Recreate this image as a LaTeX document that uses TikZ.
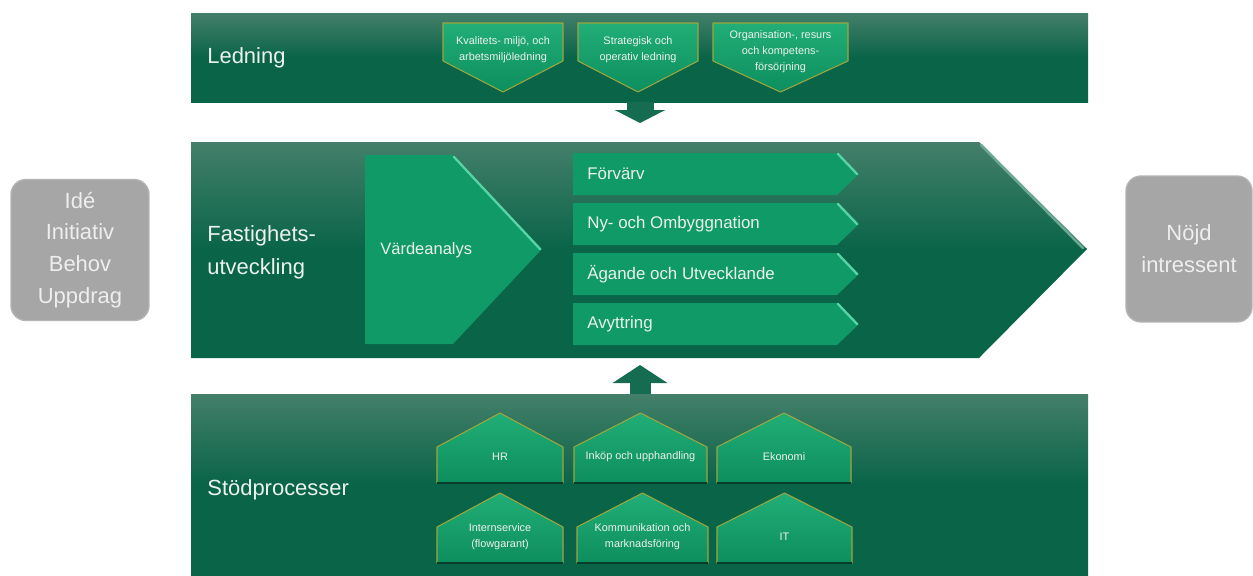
\documentclass[tikz,border=0pt]{standalone}
\usepackage{fontspec}
\setmainfont{Liberation Sans}
\usetikzlibrary{arrows.meta}

\definecolor{bandtop}{RGB}{68,127,106}
\definecolor{bandbot}{RGB}{9,100,72}
\definecolor{procgreen}{RGB}{16,154,103}
\definecolor{proctop}{RGB}{34,174,118}
\definecolor{procdark}{RGB}{13,142,94}
\definecolor{prochigh}{RGB}{88,212,166}
\definecolor{bandhigh}{RGB}{108,168,146}
\definecolor{olive}{RGB}{158,166,62}
\definecolor{shadowgreen}{RGB}{6,62,43}
\definecolor{boxgrey}{RGB}{166,166,166}
\definecolor{boxtext}{RGB}{238,238,238}
\definecolor{lighttext}{RGB}{236,242,238}
\definecolor{arrowgreen}{RGB}{22,108,80}

\pgfdeclareverticalshading{bandshade}{100bp}{color(0bp)=(bandbot); color(25bp)=(bandbot);
  color(50bp)=(bandbot); color(75bp)=(bandtop); color(100bp)=(bandtop)}

\begin{document}
\begin{tikzpicture}[x=0.02cm, y=-0.02cm]
    	\tikzstyle{band} = [shading=bandshade]
    	\tikzstyle{bandedge} = [draw=bandhigh, line width=1.5pt, line cap=round]
    	\tikzstyle{bandlabel} = [anchor=west, text=lighttext, align=left, inner sep=0pt,
    		font=\fontsize{12.5}{18.7}\selectfont]
    	\tikzstyle{proc} = [fill=procgreen]
    	\tikzstyle{prochi} = [draw=prochigh, line width=1.3pt, line cap=round]
    	\tikzstyle{proclabel} = [anchor=west, text=lighttext, inner sep=0pt,
    		font=\fontsize{9.6}{12}\selectfont]
    	\tikzstyle{chevron} = [top color=proctop, bottom color=procdark,
    		draw=olive, line width=0.6pt, line join=round]
    	\tikzstyle{house} = [top color=proctop, bottom color=procdark,
    		draw=olive, line width=0.6pt, line join=round]
    	\tikzstyle{houseshadow} = [draw=shadowgreen, line width=1.4pt]
    	\tikzstyle{smalllabel} = [text=lighttext, align=center, inner sep=0pt,
    		font=\fontsize{6.2}{9.2}\selectfont]
    	\tikzstyle{greybox} = [rounded corners=0.3cm, fill=boxgrey,
    		draw=boxgrey!85!white, line width=0.8pt, text=boxtext, align=center,
    		inner sep=0pt, font=\fontsize{12.5}{18.1}\selectfont]
    	\tikzstyle{flowdown} = [draw=arrowgreen, line width=0.54cm,
    		-{Triangle[length=0.26cm, width=1cm]}, shorten >=0.38cm]
    	\tikzstyle{flowup} = [draw=arrowgreen, line width=0.42cm,
    		-{Triangle[length=0.36cm, width=1.08cm]}, shorten >=0.14cm]

        \useasboundingbox (0,0) rectangle (1253,575);

        % the three green bands
        \path[band] (191,13) rectangle (1088,102);
        \path[band] (191,142) -- (979,142) -- (1087,249) -- (979,358)
        	-- (191,358) -- cycle;
        \path[band] (191,394) rectangle (1088,575);
        \draw[bandedge] (981,145) -- (1083,248);

        \node[bandlabel] (ledning) at (207,58) {Ledning};
        \node[bandlabel] (fastighet) at (207,252) {Fastighets-\\utveckling};
        \node[bandlabel] (stod) at (207,490) {Stödprocesser};

        % ledning
        \foreach \xl/\xr/\ty/\name/\txt in {
        	443/563/50/kvalitet/{Kvalitets-  miljö, och\\arbetsmiljöledning},
        	578/698/50/strategi/{Strategisk och\\operativ ledning},
        	713/848/52/resurs/{Organisation-, resurs\\och kompetens-\\försörjning}}
        {
        	\path[chevron] (\xl,23) -- (\xr,23) -- (\xr,61) -- ({(\xl+\xr)/2},92)
        		-- (\xl,61) -- cycle;
        	\node[smalllabel] (\name) at ({(\xl+\xr)/2},\ty) {\txt};
        }

        % fastighetsutveckling
        \path[proc] (365,155) -- (453,155) -- (542,249) -- (453,344)
        	-- (365,344) -- cycle;
        \draw[prochi] (454,157) -- (540,249);
        \node[proclabel, font=\fontsize{9.4}{12}\selectfont] (varde) at (380,250) {Värdeanalys};

        \foreach \yt/\name/\txt in {
        	153/forvarv/Förvärv,
        	203/nybygg/{Ny- och Ombyggnation},
        	253/agande/{Ägande och Utvecklande},
        	303/avyttring/Avyttring}
        {
        	\path[proc] (573,\yt) -- (837,\yt) -- (859,\yt+21) -- (837,\yt+42)
        		-- (573,\yt+42) -- cycle;
        	\draw[prochi] (838,\yt+1) -- (857,\yt+21);
        	\node[proclabel] (\name) at (587,\yt+21) {\txt};
        }

        % stodprocesser
        \foreach \xl/\xr/\yt/\name/\txt in {
        	437/563/413/hr/HR,
        	574/707/413/inkop/{Inköp och upphandling},
        	717/851/413/ekonomi/Ekonomi,
        	437/563/493/intern/{Internservice\\(flowgarant)},
        	577/708/493/kommunikation/{Kommunikation och\\marknadsföring},
        	717/852/493/it/IT}
        {
        	\path[house] (\xl,\yt+70) -- (\xl,\yt+34) -- ({(\xl+\xr)/2},\yt)
        		-- (\xr,\yt+34) -- (\xr,\yt+70) -- cycle;
        	\draw[houseshadow] (\xl,\yt+70) -- (\xr,\yt+70);
        	\node[smalllabel] (\name) at ({(\xl+\xr)/2},\yt+44) {\txt};
        }

        % in and out
        \node[greybox, minimum width=2.76cm, minimum height=2.82cm] (ide)
        	at (80,250) {Idé\\Initiativ\\Behov\\Uppdrag};
        \node[greybox, minimum width=2.52cm, minimum height=2.92cm] (nojd)
        	at (1189,249) {Nöjd\\intressent};

        % flow between the bands
        \coordinate (ledningS) at (640,102);
        \coordinate (fastighetN) at (640,142);
        \coordinate (fastighetS) at (640,358);
        \coordinate (stodN) at (640,394);
        \draw[flowdown] (ledningS) -- (fastighetN);
        \draw[flowup] (stodN) -- (fastighetS);
\end{tikzpicture}
\end{document}
